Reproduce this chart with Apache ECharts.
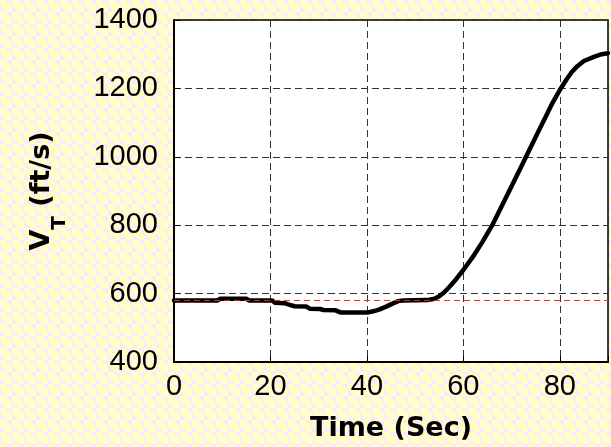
<!DOCTYPE html>
<html>
<head>
<meta charset="utf-8">
<script src="https://cdn.jsdelivr.net/npm/echarts@6/dist/echarts.min.js"></script>
<style>
html,body{margin:0;padding:0;}
body{
  width:611px;height:447px;overflow:hidden;
  background-color:#FFFFCC;
  background-image:
    radial-gradient(circle, #FFFFC2 0 3.5px, transparent 4.2px),
    linear-gradient(45deg, #FCEAF6 25%, transparent 25%, transparent 75%, #FCEAF6 75%),
    linear-gradient(45deg, #FCEAF6 25%, transparent 25%, transparent 75%, #FCEAF6 75%);
  background-size:12px 12px,12px 12px,12px 12px;
  background-position:0 0,0 0,6px 6px;
}
#main{width:611px;height:447px;}
</style>
</head>
<body>
<div id="main"></div>
<script>
// Time (s) and true airspeed V_T (ft/s)
const timeSec = [0, 9, 9.6, 15, 15.6, 20.3, 21, 22.9, 24, 25, 27.4, 28.2, 30.3, 31, 33.5, 34.5, 40.3, 41.5, 42.5, 44, 45.2, 46.5, 47.5, 52.5, 54, 55, 56, 57, 58.5, 60, 62, 64, 66, 68, 70, 72, 73, 74.7, 75.7, 77, 78.5, 80.2, 81.5, 82.5, 83.5, 85, 87.2, 88.7, 90];
const vtValues = [580, 580, 585, 585, 580, 580, 573, 572, 567, 563, 562, 556, 555, 552, 551, 545, 545, 549, 553, 562, 570, 578, 580, 581, 585, 592, 603, 618, 642, 669, 708, 752, 800, 857, 914, 971, 1000, 1049, 1078, 1115, 1158, 1200, 1228, 1248, 1263, 1280, 1293, 1300, 1303];
// Reference level (red dashed)
const refTime = [0, 90];
const refValue = [580, 580];
// Axis ranges / ticks
const xTicks = [0, 20, 40, 60, 80];
const yTicks = [400, 600, 800, 1000, 1200, 1400];
const xLabel = 'Time (Sec)';

const chart = echarts.init(document.getElementById('main'), null, {renderer: 'canvas'});
const gridDash = [7, 4];
chart.setOption({
  backgroundColor: 'transparent',
  animation: false,
  grid: {
    left: 174, top: 20, width: 443, height: 342,
    show: true, backgroundColor: '#ffffff', borderColor: '#000', borderWidth: 1.5
  },
  xAxis: {
    type: 'value', min: xTicks[0], max: 90, interval: 20,
    name: xLabel, nameLocation: 'middle', nameGap: 53,
    nameTextStyle: {fontFamily: 'DejaVu Sans', fontWeight: 'bold', fontSize: 27, color: '#000'},
    axisLine: {show: true, onZero: false, lineStyle: {color: '#000', width: 2}},
    axisTick: {show: true, inside: true, length: 6, lineStyle: {color: '#000', width: 1}},
    axisLabel: {
      margin: 10, fontFamily: 'Liberation Sans', fontSize: 29, color: '#000',
      formatter: v => (xTicks.indexOf(v) >= 0 ? String(v) : '')
    },
    splitLine: {show: true, lineStyle: {color: '#333', width: 1, type: gridDash}}
  },
  yAxis: {
    type: 'value', min: yTicks[0], max: yTicks[yTicks.length - 1], interval: 200,
    name: '{a|V}{b|T}{a| (ft/s)}', nameLocation: 'middle', nameGap: 114, nameRotate: 90,
    nameTextStyle: {
      rich: {
        a: {fontFamily: 'DejaVu Sans', fontWeight: 'bold', fontSize: 27, lineHeight: 32, verticalAlign: 'top', color: '#000'},
        b: {fontFamily: 'DejaVu Sans', fontWeight: 'bold', fontSize: 20, lineHeight: 20, padding: [22, 0, 0, 0], verticalAlign: 'top', color: '#000'}
      }
    },
    axisLine: {show: true, onZero: false, lineStyle: {color: '#000', width: 2}},
    axisTick: {show: true, inside: true, length: 6, lineStyle: {color: '#000', width: 1}},
    axisLabel: {
      margin: 16, fontFamily: 'Liberation Sans', fontSize: 29, color: '#000',
      formatter: v => (yTicks.indexOf(v) >= 0 ? String(v) : '')
    },
    splitLine: {show: true, lineStyle: {color: '#333', width: 1, type: gridDash}}
  },
  series: [
    {
      type: 'line', data: timeSec.map((t, i) => [t, vtValues[i]]),
      showSymbol: false, symbol: 'none', clip: true,
      lineStyle: {color: '#000', width: 4.5, join: 'round', cap: 'round'}, z: 3
    },
    {
      type: 'line', data: refTime.map((t, i) => [t, refValue[i]]),
      showSymbol: false, symbol: 'none',
      lineStyle: {color: '#ff2020', width: 1, type: [6, 4]}, z: 4
    }
  ]
});
</script>
</body>
</html>
